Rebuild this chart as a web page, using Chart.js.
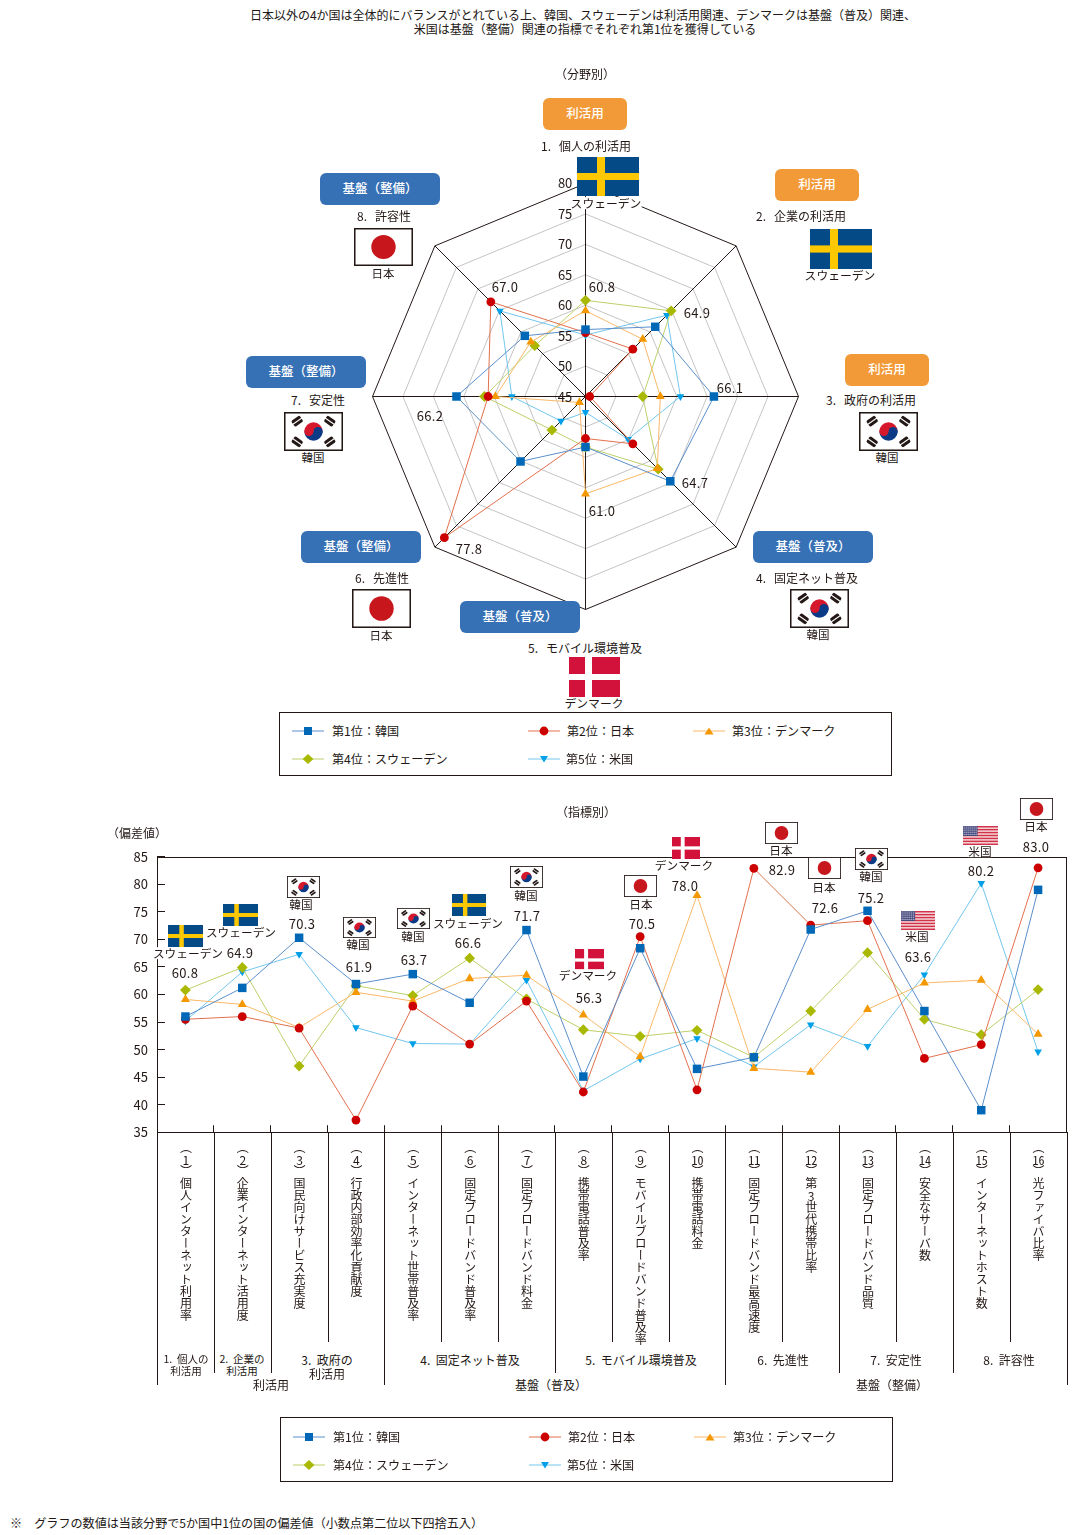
<!DOCTYPE html>
<html lang="ja">
<head>
<meta charset="utf-8">
<title>ICT chart</title>
<script src="https://cdn.jsdelivr.net/npm/chart.js@4"></script>
<style>
html,body{margin:0;padding:0;background:#fff;}
body{position:relative;width:1077px;height:1535px;overflow:hidden;font-family:"Noto Sans CJK JP","Noto Sans",sans-serif;color:#231815;}
canvas{position:absolute;z-index:1;}
.t{position:absolute;z-index:3;transform:translate(-50%,-50%);white-space:pre;line-height:1;font-size:12px;}
.l{position:absolute;z-index:3;white-space:pre;line-height:1;font-size:12px;transform:translateY(-50%);}
.pill{position:absolute;z-index:3;border-radius:6px;color:#fff;font-size:12.5px;display:flex;align-items:center;justify-content:center;font-weight:500;box-sizing:border-box;padding-bottom:3px;}
.flag{position:absolute;z-index:2;display:block;}
.vt{position:absolute;z-index:3;writing-mode:vertical-rl;text-orientation:upright;font-size:12px;line-height:14px;width:14px;white-space:nowrap;}
.vt span{text-combine-upright:all;}
.rule{position:absolute;z-index:2;background:#231815;width:1px;}
.box{position:absolute;z-index:2;border:1px solid #231815;box-sizing:border-box;background:#fff;}
</style>
</head>
<body>
<canvas id="radar" width="444" height="444" style="left:363px;top:174px;width:444px;height:444px"></canvas>
<canvas id="line" width="980" height="325" style="left:100px;top:832px;width:980px;height:325px"></canvas>
<script>
// ---------- data ----------
const seriesNames = ['第1位：韓国','第2位：日本','第3位：デンマーク','第4位：スウェーデン','第5位：米国'];

const radarAxes = ['1. 個人の利活用','2. 企業の利活用','3. 政府の利活用','4. 固定ネット普及','5. モバイル環境普及','6. 先進性','7. 安定性','8. 許容性'];
const radarTicks = [45,50,55,60,65,70,75,80];
const radarKorea   = [56.0,61.2,66.1,64.7,53.3,60.1,66.2,59.1];
const radarJapan   = [55.5,56.0,45.7,56.0,51.9,77.8,61.0,67.0];
const radarDenmark = [59.1,58.3,57.3,61.7,61.0,46.4,59.8,57.7];
const radarSweden  = [60.8,64.9,54.4,61.9,53.3,52.8,61.6,56.8];
const radarUSA     = [55.1,63.9,60.6,54.9,47.6,50.7,57.1,64.9];
const radarTopValues = ['60.8','64.9','66.1','64.7','61.0','77.8','66.2','67.0'];

const indicatorCategories = ['個人インターネット利用率','企業インターネット活用度','国民向けサービス充実度','行政内部効率化貢献度','インターネット世帯普及率','固定ブロードバンド普及率','固定ブロードバンド料金','携帯電話普及率','モバイルブロードバンド普及率','携帯電話料金','固定ブロードバンド最高速度','第3世代携帯比率','固定ブロードバンド品質','安全なサーバ数','インターネットホスト数','光ファイバ比率'];
const yTicks = [35,40,45,50,55,60,65,70,75,80,85];
const lineKorea   = [56.0,61.2,70.3,61.9,63.7,58.5,71.7,45.1,68.4,46.5,48.6,71.8,75.2,57.0,39.0,79.0];
const lineJapan   = [55.5,56.0,53.9,37.2,57.9,51.0,58.8,42.3,70.5,42.7,82.9,72.6,73.4,48.4,50.9,83.0];
const lineDenmark = [59.1,58.2,54.0,60.4,58.8,62.9,63.5,56.3,48.7,78.0,46.6,45.9,57.3,62.1,62.6,52.8];
const lineSweden  = [60.8,64.9,47.0,61.6,59.8,66.6,59.2,53.6,52.4,53.5,48.6,57.0,67.6,55.5,52.7,60.9];
const lineUSA     = [55.2,64.1,67.3,54.0,51.1,51.0,62.6,42.5,48.3,52.0,46.9,54.5,50.6,63.6,80.2,49.6];
const topCountry  = ['スウェーデン','スウェーデン','韓国','韓国','韓国','スウェーデン','韓国','デンマーク','日本','デンマーク','日本','日本','韓国','米国','米国','日本'];
const topValue    = ['60.8','64.9','70.3','61.9','63.7','66.6','71.7','56.3','70.5','78.0','82.9','72.6','75.2','63.6','80.2','83.0'];

// ---------- styles ----------
const lineColors   = ['#5b8fcb','#e2704c','#fab868','#bdd06a','#72c6ee'];
const markerColors = ['#0068b7','#cc0000','#f39800','#a9b800','#00a0e9'];
const markerStyles = ['rect','circle','triangle','rectRot','triangle'];
const markerRadius = [6,4.4,5.2,5.4,4.4];
const markerRotate = [0,0,0,0,180];

function sets(arrays){
  return arrays.map((d,i)=>({
    label:seriesNames[i],data:d,fill:false,tension:0,
    borderColor:lineColors[i],borderWidth:1,
    pointStyle:markerStyles[i],pointRadius:markerRadius[i],pointRotation:markerRotate[i],
    pointBackgroundColor:markerColors[i],pointBorderColor:markerColors[i],pointBorderWidth:0,
    clip:false
  }));
}
Chart.defaults.font.family='"Noto Sans CJK JP","Noto Sans",sans-serif';
Chart.defaults.color='#231815';

const radarChart=new Chart(document.getElementById('radar'),{
  type:'radar',
  data:{labels:radarAxes,datasets:sets([radarKorea,radarJapan,radarDenmark,radarSweden,radarUSA])},
  options:{
    responsive:false,animation:false,devicePixelRatio:1,
    layout:{padding:0},
    plugins:{legend:{display:false},tooltip:{enabled:false}},
    scales:{r:{
      min:45,max:80,
      afterUpdate:s=>{s.xCenter+=.5;s.yCenter+=.5;},
      angleLines:{color:'#231815',lineWidth:1},
      grid:{circular:false,lineWidth:1,color:c=>c.tick.value===80?'#231815':'#c4c4c4'},
      pointLabels:{display:false},
      ticks:{stepSize:5,showLabelBackdrop:false,font:{size:13},color:'#231815',z:2,
        callback:v=>radarTicks.includes(v)?(v+'\u0020'.repeat(14)):''}
    }}
  }
});

const frame={id:'frame',beforeDatasetsDraw(c){
  const a=c.chartArea,x=c.ctx;x.save();x.strokeStyle='#231815';x.lineWidth=1;
  x.strokeRect(Math.round(a.left)+.5,Math.round(a.top)+.5,Math.floor(a.right-a.left),Math.round(a.bottom-a.top));x.restore();
}};
const lineCanvasLeft=100;
const lineChart=new Chart(document.getElementById('line'),{
  type:'line',
  data:{labels:indicatorCategories,datasets:sets([lineKorea,lineJapan,lineDenmark,lineSweden,lineUSA])},
  plugins:[frame],
  options:{
    responsive:false,animation:false,devicePixelRatio:1,
    layout:{padding:{left:0,right:13.5,top:0,bottom:0}},
    plugins:{legend:{display:false},tooltip:{enabled:false}},
    scales:{
      x:{type:'category',offset:true,
        grid:{offset:true,drawOnChartArea:false,drawTicks:true,tickLength:-7,color:'#231815'},
        border:{color:'#231815'},
        ticks:{display:false},
        afterFit:s=>{s.height=0;}},
      y:{min:35,max:85,
        grid:{drawOnChartArea:false,drawTicks:true,tickLength:-8,color:'#231815'},
        border:{color:'#231815'},
        ticks:{stepSize:5,font:{size:13},color:'#231815',padding:17},
        afterFit:s=>{s.width=57;}}
    }
  }
});

// ---------- overlay helpers ----------
const B=document.body;
function text(s,cx,cy,size,extra){const d=document.createElement('div');d.className='t';d.textContent=s;d.style.left=cx+'px';d.style.top=cy+'px';if(size)d.style.fontSize=size+'px';if(extra)Object.assign(d.style,extra);B.appendChild(d);return d;}
function left(s,x,cy,size){const d=document.createElement('div');d.className='l';d.textContent=s;d.style.left=x+'px';d.style.top=cy+'px';if(size)d.style.fontSize=size+'px';B.appendChild(d);return d;}
function svgFlag(kind){
  if(kind==='スウェーデン')return `<svg xmlns="http://www.w3.org/2000/svg" viewBox="0 0 62 39" preserveAspectRatio="none"><rect width="62" height="39" fill="#044a86"/><rect x="20" width="8" height="39" fill="#fdc800"/><rect y="16" width="62" height="7" fill="#fdc800"/></svg>`;
  if(kind==='デンマーク')return `<svg xmlns="http://www.w3.org/2000/svg" viewBox="0 0 51 40" preserveAspectRatio="none"><rect width="51" height="40" fill="#d2123a"/><rect x="16" width="7" height="40" fill="#fff"/><rect y="17" width="51" height="6" fill="#fff"/></svg>`;
  if(kind==='日本')return `<svg xmlns="http://www.w3.org/2000/svg" viewBox="0 0 58 38" preserveAspectRatio="none"><rect x=".75" y=".75" width="56.5" height="36.5" fill="#fff" stroke="#231815" stroke-width="1.5"/><circle cx="29" cy="19" r="12" fill="#c8161d"/></svg>`;
  if(kind==='韓国'){
    const tri=(x,y,r)=>`<g transform="translate(${x} ${y}) rotate(${r})"><rect x="-5" y="-3.5" width="10" height="7" rx="1.5" fill="#231815"/><rect x="-6" y="-.5" width="12" height="1" fill="#fff"/></g>`;
    return `<svg xmlns="http://www.w3.org/2000/svg" viewBox="0 0 58 38" preserveAspectRatio="none"><rect x=".75" y=".75" width="56.5" height="36.5" fill="#fff" stroke="#231815" stroke-width="1.5"/>${tri(13,9,-35)}${tri(45,9,35)}${tri(13,29,35)}${tri(45,29,-35)}<path d="M20 19a9 9 0 0 1 18 0z" fill="#d6182c"/><path d="M20 19a9 9 0 0 0 18 0z" fill="#0b3b86"/><circle cx="33.5" cy="19" r="4.5" fill="#0b3b86"/><circle cx="24.5" cy="19" r="4.5" fill="#d6182c"/></svg>`;
  }
  let s='';for(let i=0;i<7;i++)s+=`<rect y="${i*3*20/19.5}" width="35" height="1.55" fill="#d2324a"/>`;
  let dots='';for(let r=0;r<5;r++)for(let c=0;c<7;c++)dots+=`<rect x="${.6+c*2}" y="${.6+r*2}" width="1" height="1" fill="#fff"/>`;
  return `<svg xmlns="http://www.w3.org/2000/svg" viewBox="0 0 35 20" preserveAspectRatio="none"><rect width="35" height="20" fill="#f6dcdc"/>${s}<rect width="14.5" height="10.5" fill="#3c3f78"/>${dots}</svg>`;
}
function flag(kind,x1,y1,x2,y2){const d=document.createElement('div');d.className='flag';d.innerHTML=svgFlag(kind);d.style.cssText=`left:${x1}px;top:${y1}px;width:${x2-x1}px;height:${y2-y1}px`;const s=d.firstChild;s.style.cssText='display:block;width:100%;height:100%';B.appendChild(d);}

// ---------- headings ----------
text('日本以外の4か国は全体的にバランスがとれている上、韓国、スウェーデンは利活用関連、デンマークは基盤（普及）関連、',583,15,12);
text('米国は基盤（整備）関連の指標でそれぞれ第1位を獲得している',585,29,12.03);
text('（分野別）',585,74,12);
text('（指標別）',586,812,12);
text('（偏差値）',137,833,12);
left('※　グラフの数値は当該分野で5か国中1位の国の偏差値（小数点第二位以下四捨五入）',10,1523,12.1);

// ---------- radar callouts ----------
const ORANGE='#f39a38',BLUE='#3670b5';
const pills=[['利活用',543,98,84,32,ORANGE],['利活用',775,169,84,32,ORANGE],['利活用',845,354,84,32,ORANGE],['基盤（普及）',753,531,120,32,BLUE],['基盤（普及）',460,601,120,32,BLUE],['基盤（整備）',301,531,120,32,BLUE],['基盤（整備）',246,356,120,32,BLUE],['基盤（整備）',320,173,120,32,BLUE]];
pills.forEach(p=>{const d=document.createElement('div');d.className='pill';d.textContent=p[0];d.style.cssText=`left:${p[1]}px;top:${p[2]}px;width:${p[3]}px;height:${p[4]}px;background:${p[5]}`;B.appendChild(d);});
const heads=[[586,146],[801,216],[871,400],[807,578],[585,648],[382,578],[318,400],[384,216]];
radarAxes.forEach((s,i)=>text(s.replace('. ','.   '),heads[i][0],heads[i][1],12));
const radarFlags=[['スウェーデン',577,157,639,196,606,203],['スウェーデン',810,229,872,269,840,275],['韓国',859,412,918,451,887,458],['韓国',790,589,849,628,818,635],['デンマーク',569,657,620,697,594,703],['日本',352,589,411,628,381,636],['韓国',284,412,343,451,313,458],['日本',354,228,413,266,383,274]];
radarFlags.forEach(f=>{flag(f[0],f[1],f[2],f[3],f[4]);text(f[0],f[5],f[6],f[0].length>2?11.8:11.5,{background:'#fff'});});
const radarValuePos=[[602,286],[697,312],[730,387],[695,482],[602,510],[469,548],[430,415],[505,286]];
radarTopValues.forEach((v,i)=>text(v,radarValuePos[i][0],radarValuePos[i][1],13,{letterSpacing:'.3px'}));
// innermost ring label: the radial scale never draws its first tick
text(String(radarTicks[0]),565,396,13);

// ---------- line chart callouts ----------
const callouts=[[168,925,203,947,188,953,185,972],[223,904,258,926,241,932,240,952],[287,876,320,898,301,904,302,923],[343,917,376,938,358,944,359,966],[397,908,430,929,413,936,414,959],[452,894,486,916,468,923,468,942],[510,866,543,888,526,895,527,915],[575,949,604,971,588,975,589,997],[624,875,657,897,641,904,642,923],[672,837,700,859,684,865,685,885],[765,822,798,844,781,850,782,869],[808,857,841,879,824,887,825,907],[855,848,888,870,871,876,871,897],[901,911,935,930,917,936,918,956],[963,826,998,845,980,851,981,870],[1020,798,1053,820,1036,826,1036,846]];
callouts.forEach((c,i)=>{
  flag(topCountry[i],c[0],c[1],c[2],c[3]);
  text(topCountry[i],c[4],c[5],11.7,{background:'#fff'});
  text(topValue[i],c[6],c[7],13,{letterSpacing:'.3px'});
});

// ---------- category labels (positioned from the chart's x scale) ----------
const xs=lineChart.scales.x;
indicatorCategories.forEach((s,i)=>{
  const d=document.createElement('div');d.className='vt';
  const parts=s.split(/(\d+)/).map(p=>/^\d+$/.test(p)?`<span>${p}</span>`:p).join('');
  d.innerHTML=`（<span>${i+1}</span>）${parts}`;
  d.style.left=(lineCanvasLeft+xs.getPixelForValue(i)-7)+'px';d.style.top='1141px';
  B.appendChild(d);
});
const bottoms=[1385,1373,1373,1342,1385,1342,1342,1373,1342,1342,1385,1342,1373,1342,1373,1342,1385];
const step=(xs.right-xs.left)/indicatorCategories.length;
bottoms.forEach((b,i)=>{const d=document.createElement('div');d.className='rule';d.style.left=Math.round(lineCanvasLeft+xs.left+step*i)+'px';d.style.top='1132px';d.style.height=(b-1132)+'px';B.appendChild(d);});
text('1.  個人の',186,1359,10.5);text('利活用',186,1371,10.5);
text('2.  企業の',242,1359,10.5);text('利活用',242,1371,10.5);
text('3.  政府の',327,1360,12);text('利活用',327,1374,12);
text('4.  固定ネット普及',470,1360,12);
text('5.  モバイル環境普及',641,1360,12);
text('6.  先進性',783,1360,12);
text('7.  安定性',896,1360,12);
text('8.  許容性',1009,1360,12);
text('利活用',271,1385,12);
text('基盤（普及）',551,1385,12);
text('基盤（整備）',892,1385,12);

// ---------- legends ----------
function marker(i){
  const k=markerStyles[i],c=markerColors[i];
  if(k==='rect')return `<rect x="12" y="4" width="8" height="8" fill="${c}"/>`;
  if(k==='circle')return `<circle cx="16" cy="8" r="4.4" fill="${c}"/>`;
  if(k==='rectRot')return `<path d="M16 3l5.4 5-5.4 5-5.4-5z" fill="${c}"/>`;
  if(markerRotate[i])return `<path d="M12 5h8l-4 6.5z" fill="${c}"/>`;
  return `<path d="M11.5 11.5h9L16 4.5z" fill="${c}"/>`;
}
function legend(x,y,w,h,dy){
  const b=document.createElement('div');b.className='box';b.style.cssText=`left:${x}px;top:${y}px;width:${w}px;height:${h}px`;B.appendChild(b);
  const cells=[[13,19,40],[249,19,39],[414,19,39],[13,47,40],[249,47,38]];
  seriesNames.forEach((n,i)=>{
    const [lx,ly,tx]=cells[i];
    const d=document.createElement('div');d.style.cssText=`position:absolute;z-index:3;left:${x+lx}px;top:${y+ly+dy-8}px;width:32px;height:16px`;
    d.innerHTML=`<svg xmlns="http://www.w3.org/2000/svg" width="32" height="16" style="display:block"><line x1="0" y1="8" x2="32" y2="8" stroke="${lineColors[i]}"/>${marker(i)}</svg>`;
    B.appendChild(d);
    left(n,x+lx+tx,y+ly+dy,12.1);
  });
}
legend(279,712,613,64,0);
legend(280,1417,613,65,1);
</script>
</body>
</html>
